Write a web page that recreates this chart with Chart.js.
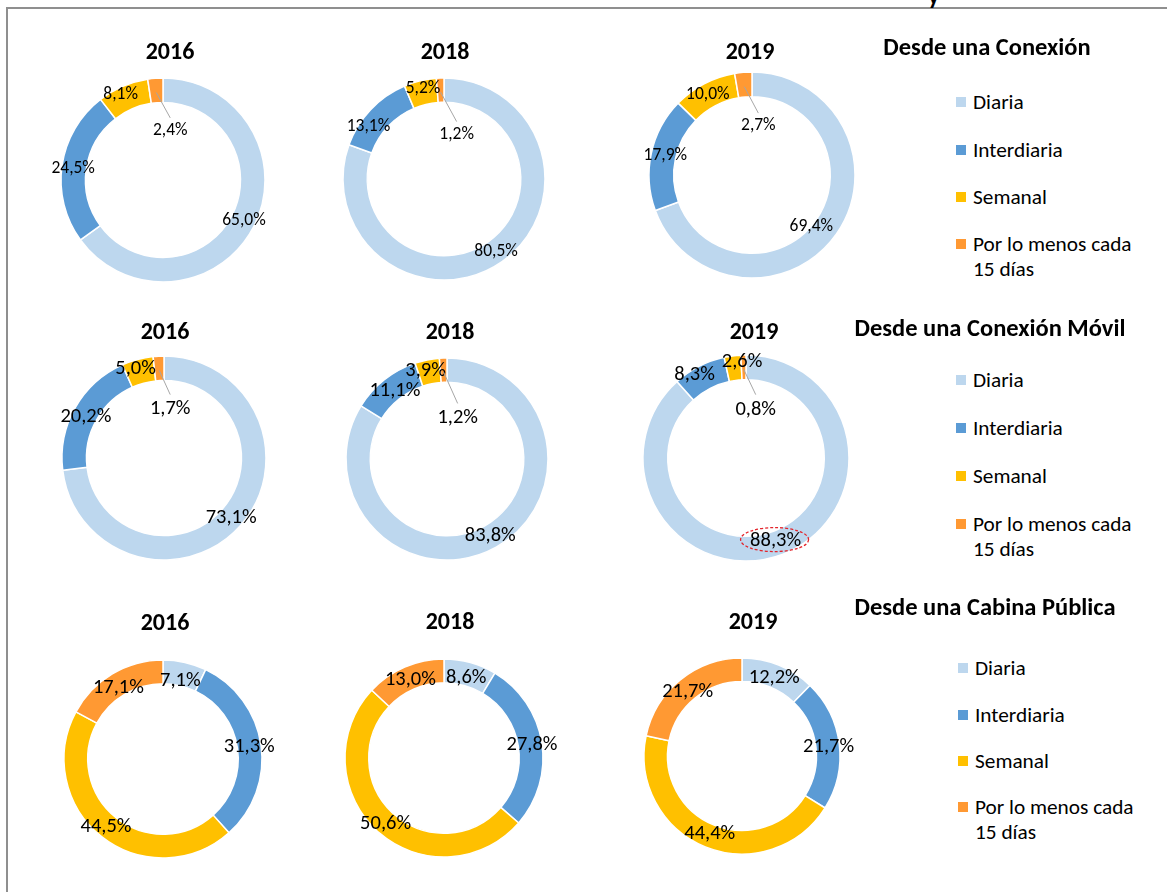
<!DOCTYPE html>
<html>
<head>
<meta charset="utf-8">
<script src="https://cdn.jsdelivr.net/npm/chart.js@4.4.1/dist/chart.umd.min.js"></script>
<style>
  html, body { margin: 0; padding: 0; background: #fff; }
  body { width: 1167px; height: 892px; position: relative; overflow: hidden; font-family: Carlito, Lato, "Open Sans", sans-serif; color: #000; }
  #frame { position: absolute; left: 6px; top: 7px; width: 1300px; height: 1000px; border-left: 2px solid #8f8f8f; border-top: 2px solid #8f8f8f; }
  canvas { position: absolute; }
  .year { position: absolute; font-weight: bold; font-size: 24px; transform: translate(-50%, -50%); white-space: nowrap; }
  .ptitle { position: absolute; font-weight: bold; font-size: 24.5px; transform: translate(-50%, -50%); white-space: nowrap; }
  .item { position: absolute; font-size: 21.3px; white-space: nowrap; line-height: 25px; }
  .sq { position: absolute; width: 10px; height: 10px; }
  .cut { position: absolute; left: 928px; top: -19px; font-weight: bold; font-size: 24px; }
</style>
</head>
<body>
<div id="frame"></div>
<div class="cut">y</div>
<script>
// ---------- DATA ----------
const categories = ['Diaria', 'Interdiaria', 'Semanal', 'Por lo menos cada 15 días'];
const legendLines = [['Diaria'], ['Interdiaria'], ['Semanal'], ['Por lo menos cada', '15 días']];
const years = ['2016', '2018', '2019'];
const panelTitles = ['Desde una Conexión', 'Desde una Conexión Móvil', 'Desde una Cabina Pública'];

const conexion2016 = [65.0, 24.5, 8.1, 2.4];
const conexion2018 = [80.5, 13.1, 5.2, 1.2];
const conexion2019 = [69.4, 17.9, 10.0, 2.7];

const movil2016 = [73.1, 20.2, 5.0, 1.7];
const movil2018 = [83.8, 11.1, 3.9, 1.2];
const movil2019 = [88.3, 8.3, 2.6, 0.8];

const cabina2016 = [7.1, 31.3, 44.5, 17.1];
const cabina2018 = [8.6, 27.8, 50.6, 13.0];
const cabina2019 = [12.2, 21.7, 44.4, 21.7];

const seriesGrid = [
  [conexion2016, conexion2018, conexion2019],
  [movil2016, movil2018, movil2019],
  [cabina2016, cabina2018, cabina2019]
];

// ---------- STYLE / LAYOUT ----------
const colors = ['#BDD7EE', '#5B9BD5', '#FFC000', '#FF9933'];
// donut centres and radii (layout only)
const donutLayout = [
  [[163, 180, 102], [444, 179, 101], [752, 175, 103]],
  [[164, 458, 102], [447, 459, 101], [746, 458, 103]],
  [[163, 759, 99], [444, 758, 99], [742, 756, 98]]
];
const yearPos = [
  [[170, 50], [445, 50], [750, 50]],
  [[165, 330], [450, 330], [754, 330]],
  [[165, 621], [450, 620], [753, 620]]
];
const labelFont = [17.5, 20.5, 20.5];
// label offsets from ring centroid: [dx, dy, leader]
const labelOffsets = [
  [
    [[1, 0], [-1, 1], [-7, -3], [14, 40, 1]],
    [[1, 0], [-11, 9], [0, -4], [16, 44, 1]],
    [[-15, 0], [2, 0], [-2, 0], [14, 41, 1]]
  ],
  [
    [[0, 0], [0, 3], [-5, -2], [11, 41, 1]],
    [[0, -1], [3, 2], [-4, -1], [14, 48, 1]],
    [[-3, -2], [-10, -2], [8, -6], [12, 42, 1]]
  ],
  [
    [[-2, 7], [0, 0], [-3, 0], [0, 4]],
    [[-1, 4], [2, 1], [0, 1], [1, 2]],
    [[0, 2], [1, 1], [0, -2], [0, 3]]
  ]
];
const highlight = { row: 1, col: 2, index: 0 };
const legendLayout = [
  { title: [987, 47], sqX: 956, txtX: 973, ys: [102, 150, 197, 244] },
  { title: [990, 328], sqX: 956, txtX: 973, ys: [380, 428, 476, 524] },
  { title: [985, 607], sqX: 958, txtX: 975, ys: [668, 715, 761, 807] }
];

const fmt = v => v.toFixed(1).replace('.', ',') + '%';

const donutLabels = {
  id: 'donutLabels',
  afterDatasetsDraw(chart, args, opts) {
    const ctx = chart.ctx;
    const meta = chart.getDatasetMeta(0);
    const values = chart.data.datasets[0].data;
    ctx.save();
    ctx.font = opts.fontSize + 'px Carlito, Lato, "Open Sans", sans-serif';
    ctx.textAlign = 'center';
    ctx.textBaseline = 'middle';
    meta.data.forEach((arc, i) => {
      const p = arc.getProps(['x', 'y', 'startAngle', 'endAngle', 'innerRadius', 'outerRadius'], true);
      const mid = (p.startAngle + p.endAngle) / 2;
      const r = (p.innerRadius + p.outerRadius) / 2;
      const cx = p.x + Math.cos(mid) * r;
      const cy = p.y + Math.sin(mid) * r;
      const off = opts.offsets[i];
      const lx = cx + off[0], ly = cy + off[1];
      if (off[2]) {
        ctx.strokeStyle = '#a6a6a6';
        ctx.lineWidth = 1;
        ctx.beginPath();
        ctx.moveTo(cx, cy + 2);
        ctx.lineTo(lx, ly - opts.fontSize * 0.72);
        ctx.stroke();
      }
      ctx.fillStyle = '#000';
      ctx.fillText(fmt(values[i]), lx, ly);
      if (opts.highlight === i) {
        ctx.strokeStyle = '#e3242b';
        ctx.lineWidth = 1.3;
        ctx.setLineDash([3, 2]);
        ctx.beginPath();
        ctx.ellipse(lx - 1, ly - 1, 34, 12, 0, 0, Math.PI * 2);
        ctx.stroke();
        ctx.setLineDash([]);
      }
    });
    ctx.restore();
  }
};

const W = 300, H = 260;
seriesGrid.forEach((row, ri) => {
  row.forEach((values, ci) => {
    const [cx, cy, r] = donutLayout[ri][ci];
    const cv = document.createElement('canvas');
    cv.width = W; cv.height = H;
    cv.style.left = (cx - W / 2) + 'px';
    cv.style.top = (cy - H / 2) + 'px';
    cv.style.width = W + 'px'; cv.style.height = H + 'px';
    document.body.appendChild(cv);
    const pad = H / 2 - r - 0.75;
    new Chart(cv, {
      type: 'doughnut',
      data: {
        labels: categories,
        datasets: [{
          data: values,
          backgroundColor: colors,
          borderColor: '#ffffff',
          borderWidth: 1.5,
          hoverOffset: 0
        }]
      },
      options: {
        responsive: false,
        animation: false,
        devicePixelRatio: 1,
        cutout: '76%',
        layout: { padding: { top: pad, bottom: pad, left: pad, right: pad } },
        plugins: {
          legend: { display: false },
          tooltip: { enabled: false },
          donutLabels: {
            fontSize: labelFont[ri],
            offsets: labelOffsets[ri][ci],
            highlight: (highlight.row === ri && highlight.col === ci) ? highlight.index : -1
          }
        }
      },
      plugins: [donutLabels]
    });
    const yt = document.createElement('div');
    yt.className = 'year';
    yt.textContent = years[ci];
    yt.style.left = yearPos[ri][ci][0] + 'px';
    yt.style.top = yearPos[ri][ci][1] + 'px';
    document.body.appendChild(yt);
  });
  // legend panel
  const L = legendLayout[ri];
  const t = document.createElement('div');
  t.className = 'ptitle';
  t.textContent = panelTitles[ri];
  t.style.left = L.title[0] + 'px';
  t.style.top = L.title[1] + 'px';
  document.body.appendChild(t);
  categories.forEach((c, k) => {
    const sq = document.createElement('div');
    sq.className = 'sq';
    sq.style.background = colors[k];
    sq.style.left = L.sqX + 'px';
    sq.style.top = (L.ys[k] - 5) + 'px';
    document.body.appendChild(sq);
    const it = document.createElement('div');
    it.className = 'item';
    it.innerHTML = legendLines[k].join('<br>');
    it.style.left = L.txtX + 'px';
    it.style.top = (L.ys[k] - 12.5) + 'px';
    document.body.appendChild(it);
  });
});
</script>
</body>
</html>
